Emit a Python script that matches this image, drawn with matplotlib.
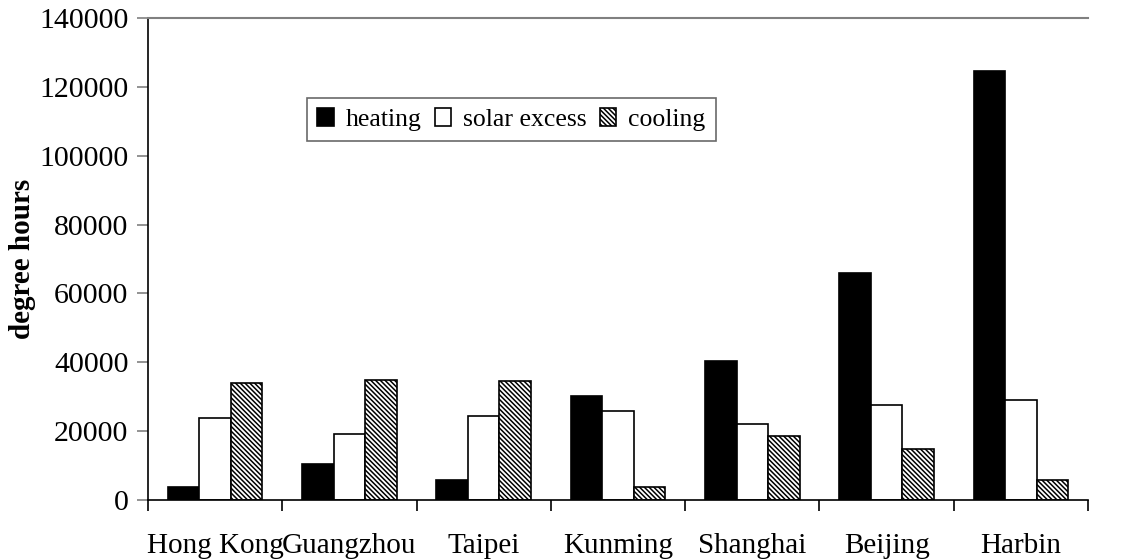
import numpy as np
import matplotlib
matplotlib.use("Agg")
import matplotlib.pyplot as plt

plt.rcParams['font.family'] = ['Liberation Serif', 'DejaVu Serif']
plt.rcParams['hatch.linewidth'] = 1.1
plt.rcParams['hatch.color'] = '#333333'

# datos
ciudades = ["Hong Kong", "Guangzhou", "Taipei", "Kunming", "Shanghai", "Beijing", "Harbin"]
heating = [3800, 10600, 5800, 30300, 40300, 66000, 124500]
solar_excess = [23800, 19100, 24400, 25900, 22200, 27500, 29100]
cooling = [33900, 34800, 34500, 3700, 18600, 14800, 5800]

fig = plt.figure(figsize=(11.22, 5.6), dpi=100)
ax = fig.add_axes([148/1122, 1-500/560, 940/1122, 482/560])

x = np.arange(len(ciudades))
w = 0.235
ax.bar(x - w, heating, w, color="black", edgecolor="black", linewidth=1.2, label="heating")
ax.bar(x, solar_excess, w, color="white", edgecolor="black", linewidth=1.2, label="solar excess")
ax.bar(x + w, cooling, w, color="white", edgecolor="black", linewidth=1.2,
       hatch="\\" * 7, label="cooling")

ax.set_xlim(-0.5, len(ciudades) - 0.5)
ax.set_ylim(0, 140000)
ax.set_yticks(np.arange(0, 140001, 20000))

# ticks en los bordes de las categorias
ax.set_xticks(np.arange(len(ciudades) + 1) - 0.5)
ax.set_xticklabels([])
ax.set_xticks(x, minor=True)
ax.set_xticklabels(ciudades, minor=True)
ax.tick_params(axis="x", which="minor", length=0, pad=24, labelsize=21)
ax.tick_params(axis="x", which="major", length=8, direction="out", width=1.2)
ax.tick_params(axis="y", length=8, direction="out", width=1.2, color="gray", labelsize=21.5, pad=6)

ax.spines["right"].set_visible(False)
ax.spines["top"].set_color("gray")
ax.spines["top"].set_linewidth(1.5)
ax.spines["left"].set_linewidth(1.2)
ax.spines["bottom"].set_linewidth(1.2)

ax.set_ylabel("degree hours", fontsize=21, fontweight="bold", labelpad=2)

leg = fig.legend(loc="upper left", bbox_to_anchor=(307/1122, 1-98/560), ncol=3,
                 fontsize=18.5, frameon=True, fancybox=False, edgecolor="#444444",
                 handlelength=0.66, handleheight=0.66, handletextpad=0.45,
                 columnspacing=0.5, borderpad=0.4, borderaxespad=0)
leg.get_frame().set_linewidth(1.2)

fig.savefig("out.png", dpi=100)
